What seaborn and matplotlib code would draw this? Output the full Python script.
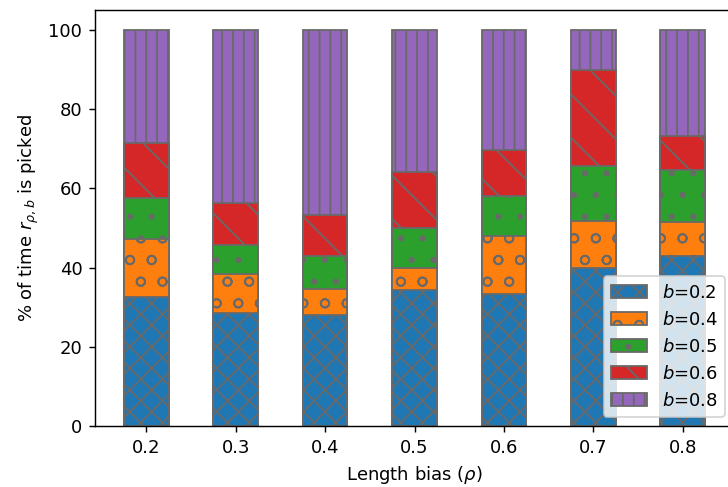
import numpy as np
import pandas as pd
import seaborn as sns
import matplotlib
matplotlib.use("Agg")
import matplotlib.pyplot as plt

# data (percent of time each r_{rho,b} is picked)
rho = ["0.2", "0.3", "0.4", "0.5", "0.6", "0.7", "0.8"]
b_values = ["0.2", "0.4", "0.5", "0.6", "0.8"]
pct_b02 = [32.6, 28.6, 28.1, 34.3, 33.3, 39.9, 42.8]
pct_b04 = [14.6, 9.7, 6.4, 5.7, 14.7, 11.9, 8.8]
pct_b05 = [10.4, 7.3, 8.3, 10.0, 10.1, 13.9, 12.9]
pct_b06 = [13.8, 10.6, 10.5, 14.1, 11.6, 24.2, 8.7]
pct_b08 = [28.6, 43.8, 46.7, 35.9, 30.3, 10.1, 26.8]

colors = sns.color_palette("tab10", 5)
hatches = ["xx", "o", ".", "\\", "||"]

pct = np.array([pct_b02, pct_b04, pct_b05, pct_b06, pct_b08])
tops = np.cumsum(pct, axis=0)

df = pd.DataFrame({
    "rho": np.tile(rho, len(b_values)),
    "b": np.repeat(b_values, len(rho)),
    "top": tops.ravel(),
})

fig = plt.figure(figsize=(5.6, 487 / 130), dpi=130)
ax = fig.add_axes([95 / 728, 1 - 426 / 487, 639 / 728, 416 / 487])

# draw from the tallest layer down so each lower segment sits on top
for i in reversed(range(len(b_values))):
    sub = df[df["b"] == b_values[i]]
    sns.barplot(data=sub, x="rho", y="top", order=rho, color=colors[i],
                saturation=1, width=0.5, errorbar=None, edgecolor="dimgray",
                linewidth=1.0, hatch=hatches[i], label=f"$b$={b_values[i]}",
                ax=ax)

ax.set_xlim(-0.575, 6.575)
ax.set_ylim(0, 105)
ax.set_xlabel(r"Length bias ($\rho$)")
ax.set_ylabel(r"% of time $r_{\rho,b}$ is picked")

handles, labels = ax.get_legend_handles_labels()
ax.legend(handles[::-1], labels[::-1], loc="lower right")

fig.savefig("out.png", dpi=130)
